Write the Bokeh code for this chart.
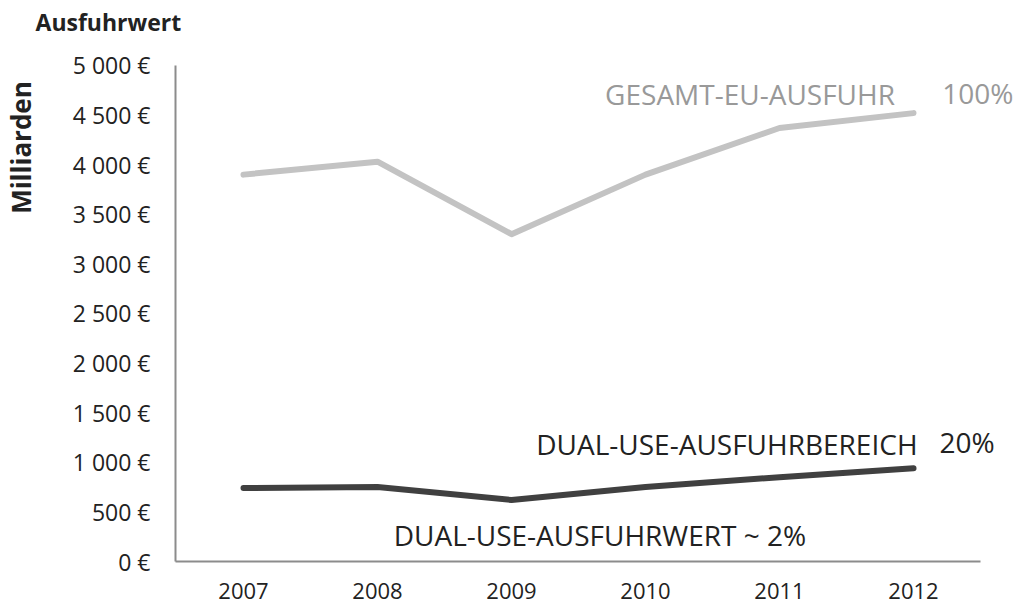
import math
from bokeh.plotting import figure
from bokeh.models import Range1d, FixedTicker, Label
from bokeh.embed import file_html
from bokeh.resources import INLINE

years = [2007, 2008, 2009, 2010, 2011, 2012]
total_exports = [3900, 4030, 3300, 3900, 4370, 4520]
dual_use_range = [740, 750, 620, 750, 850, 940]
y_ticks = [0, 500, 1000, 1500, 2000, 2500, 3000, 3500, 4000, 4500, 5000]
y_tick_labels = ["0 €", "500 €", "1 000 €", "1 500 €", "2 000 €", "2 500 €",
                 "3 000 €", "3 500 €", "4 000 €", "4 500 €", "5 000 €"]

FONT = "Open Sans"
DARK = "#222222"
GREY_TXT = "#999999"

# axis extents (data units)
X_AXIS_START, X_AXIS_END = 2006.4925, 2012.5
Y_AXIS_START, Y_AXIS_END = 0, 5000

p = figure(width=1014, height=606, x_range=Range1d(2005.1866, 2012.7537),
           y_range=Range1d(-453.6, 5655.2), output_backend="svg", toolbar_location=None,
           min_border_left=0, min_border_right=0, min_border_top=0, min_border_bottom=0)
p.outline_line_color = None
p.grid.grid_line_color = None

p.line(years, total_exports, line_color="#c3c3c3", line_width=6, line_cap="round", line_join="round")
p.line(years, dual_use_range, line_color="#404040", line_width=6, line_cap="round", line_join="round")

for ax in (p.xaxis[0], p.yaxis[0]):
    ax.axis_line_color = "#8c8c8c"
    ax.axis_line_width = 2
    ax.major_tick_line_color = None
    ax.minor_tick_line_color = None
    ax.major_tick_out = 0
    ax.major_tick_in = 0
    ax.minor_tick_out = 0
    ax.major_label_text_font = FONT
    ax.major_label_text_color = DARK

p.yaxis.ticker = FixedTicker(ticks=y_ticks)
p.yaxis.major_label_overrides = {t: l for t, l in zip(y_ticks, y_tick_labels)}
p.yaxis.major_label_text_font_size = "23px"
p.yaxis.major_label_standoff = 25
p.yaxis.bounds = (Y_AXIS_START, Y_AXIS_END)
p.yaxis.fixed_location = X_AXIS_START

p.xaxis.ticker = FixedTicker(ticks=years)
p.xaxis.major_label_text_font_size = "22px"
p.xaxis.major_label_standoff = 21
p.xaxis.bounds = (X_AXIS_START, X_AXIS_END)
p.xaxis.fixed_location = Y_AXIS_START

def note(x, y, text, color, align="center", size="28px", style="normal", angle=0.0):
    p.add_layout(Label(x=x, y=y, text=text, text_font=FONT, text_font_size=size,
                       text_font_style=style, angle=angle,
                       text_color=color, text_align=align, text_baseline="middle"))

note(2005.448, 5443, "Ausfuhrwert", DARK, "left", "23px", "bold")
note(2005.34, 4173, "Milliarden", DARK, "center", "26px", "bold", math.pi / 2)
note(2010.78, 4717, "GESAMT-EU-AUSFUHR", GREY_TXT)
note(2012.48, 4727, "100%", GREY_TXT)
note(2012.03, 1186, "DUAL-USE-AUSFUHRBEREICH", DARK, "right")
note(2012.40, 1206, "20%", DARK)
note(2009.66, 267, "DUAL-USE-AUSFUHRWERT ~ 2%", DARK)

open("out.html", "w").write(file_html(p, INLINE))
